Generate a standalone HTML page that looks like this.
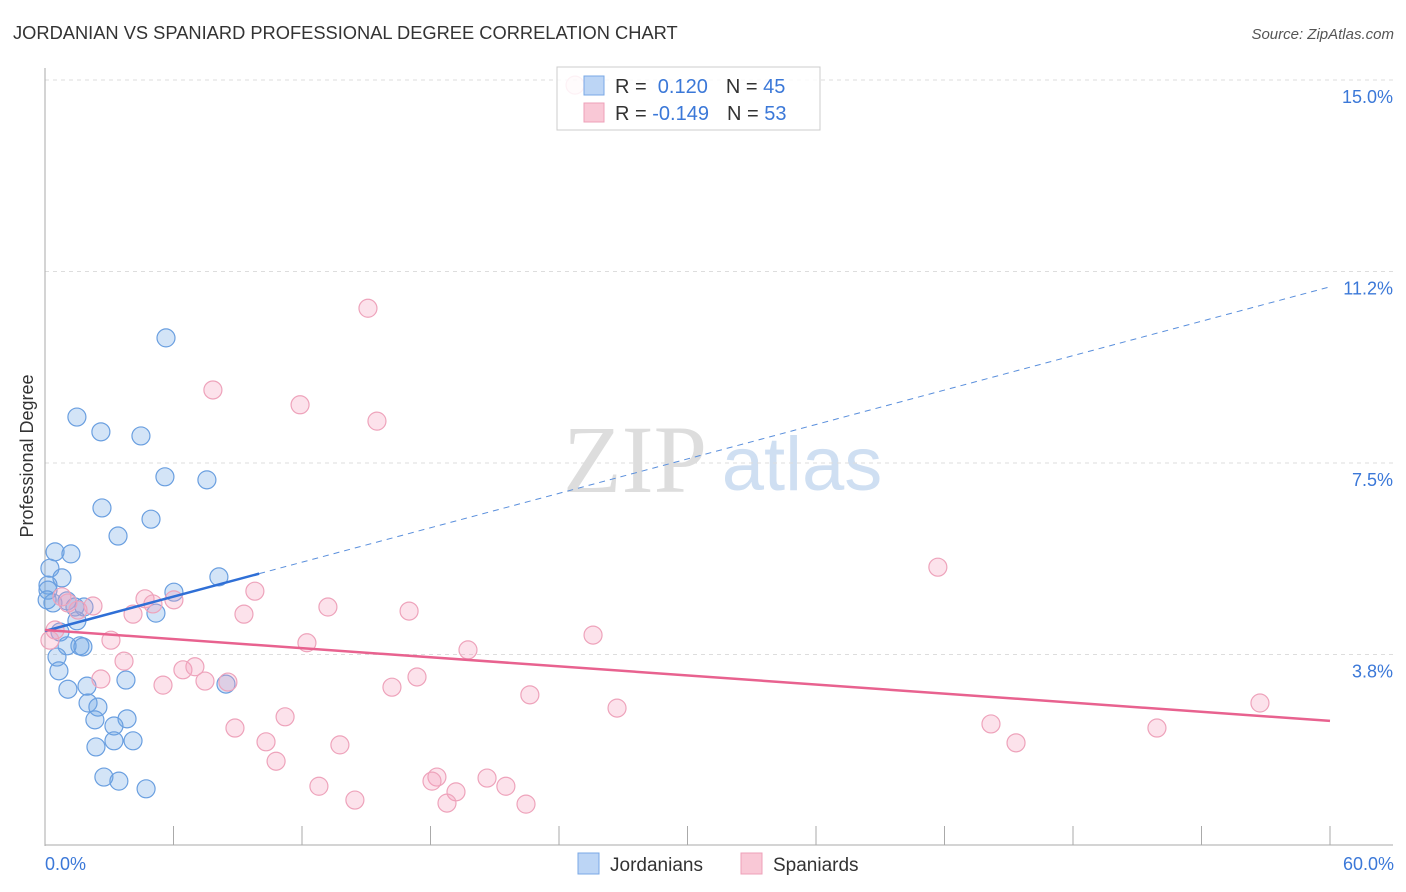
<!DOCTYPE html>
<html><head><meta charset="utf-8"><style>
body{margin:0;background:#fff;font-family:"Liberation Sans",sans-serif}
svg{display:block}
</style></head><body>
<svg id="c" width="1406" height="892">
<text x="13" y="39" font-size="18.3" fill="#333">JORDANIAN VS SPANIARD PROFESSIONAL DEGREE CORRELATION CHART</text>
<text x="1394" y="39" font-size="15" fill="#555" font-style="italic" text-anchor="end">Source: ZipAtlas.com</text>
<text x="635" y="492" font-size="96" fill="#ddd" font-family="Liberation Serif,serif" text-anchor="middle">ZIP</text>
<text x="802" y="490" font-size="76" fill="#cfdff2" text-anchor="middle">atlas</text>
<g id="grid"></g><g id="pts"></g><g id="trend"></g>
<text transform="translate(33,456) rotate(-90)" font-size="18" fill="#333" text-anchor="middle">Professional Degree</text>
<text x="45" y="870" font-size="18" fill="#3b78d8">0.0%</text>
<text x="1394" y="870" font-size="18" fill="#3b78d8" text-anchor="end">60.0%</text>
<g>
<rect x="557" y="67" width="263" height="63" fill="rgba(255,255,255,0.85)" stroke="#ccc"/>
<rect x="584" y="76" width="20" height="19" fill="#bcd5f5" stroke="#7aa8e6"/>
<rect x="584" y="103" width="20" height="19" fill="#f9c8d6" stroke="#eea0b8"/>
<text x="615" y="93" font-size="20" fill="#333">R = <tspan fill="#3b78d8">&#160;0.120</tspan><tspan dx="18">N = </tspan><tspan fill="#3b78d8">45</tspan></text>
<text x="615" y="120" font-size="20" fill="#333">R = <tspan fill="#3b78d8">-0.149</tspan><tspan dx="18">N = </tspan><tspan fill="#3b78d8">53</tspan></text>
</g>
<g>
<rect x="578" y="853" width="21" height="21" fill="#bcd5f5" stroke="#7aa8e6"/>
<text x="610" y="871" font-size="19" fill="#333">Jordanians</text>
<rect x="741" y="853" width="21" height="21" fill="#f9c8d6" stroke="#eea0b8"/>
<text x="773" y="871" font-size="19" fill="#333">Spaniards</text>
</g>
</svg>
<script>
const yTicks=[3.75,7.5,11.25,15];
const yTickLabels=["3.8%","7.5%","11.2%","15.0%"];
const xTicks=[0,6,12,18,24,30,36,42,48,54,60];
const jordX=[5.65,1.49,2.61,4.48,5.60,7.56,2.66,4.95,3.41,0.47,1.21,0.23,0.79,0.14,0.14,8.12,6.02,0.37,1.03,1.40,1.82,5.18,1.49,0.70,1.63,1.77,1.03,0.56,0.65,1.07,1.96,2.01,2.47,2.33,3.83,3.22,3.22,4.11,2.38,2.75,3.45,4.72,3.78,8.45,0.1];
const jordY=[9.95,8.40,8.11,8.03,7.23,7.17,6.62,6.40,6.07,5.76,5.72,5.44,5.25,5.11,5.01,5.27,4.97,4.76,4.80,4.68,4.68,4.56,4.41,4.19,3.92,3.90,3.92,3.70,3.43,3.07,3.13,2.80,2.72,2.47,2.49,2.35,2.06,2.06,1.94,1.35,1.27,1.12,3.25,3.17,4.82];
const spanX=[24.75,15.08,7.84,11.91,15.50,41.69,9.80,4.67,5.04,6.02,13.21,17.00,9.29,4.11,2.24,1.07,1.54,0.79,0.47,0.23,25.59,12.23,3.08,19.75,3.69,6.44,7.00,2.61,5.51,7.47,8.54,16.20,17.37,22.64,26.71,11.21,8.87,10.32,13.77,44.17,45.34,51.92,56.73,10.79,18.30,18.07,20.64,21.52,12.79,14.47,19.19,18.77,22.46];
const spanY=[14.90,10.53,8.93,8.64,8.32,5.46,4.99,4.84,4.74,4.82,4.68,4.60,4.54,4.54,4.70,4.76,4.62,4.88,4.23,4.03,4.13,3.98,4.03,3.84,3.62,3.45,3.51,3.27,3.15,3.23,3.21,3.11,3.31,2.96,2.70,2.53,2.31,2.04,1.98,2.39,2.02,2.31,2.80,1.66,1.35,1.27,1.33,1.17,1.17,0.90,1.06,0.84,0.82,0.86];
const jordTrend=[4.21,10.95];
const spanTrend=[4.23,2.45];
const jordSolidEnd=10;
const NS="http://www.w3.org/2000/svg";
const X=v=>45+v/60*1285, Y=v=>846-v/15*766;
function mk(t,a,p){const e=document.createElementNS(NS,t);for(const k in a)e.setAttribute(k,a[k]);p.appendChild(e);return e;}
const g=document.getElementById('grid');
yTicks.forEach((t,i)=>{
 const l=mk('line',{x1:45,x2:1393,y1:Y(t),y2:Y(t),stroke:'#ddd','stroke-dasharray':'4,4'},g);
 
 
 const tx=mk('text',{x:1393,y:Y(t)+23,'font-size':18,fill:'#3b78d8','text-anchor':'end'},g);tx.textContent=yTickLabels[i];
 
 
});
const ax=mk('line',{x1:45,x2:45,y1:68,y2:846,stroke:'#aaa'},g);


const bx=mk('line',{x1:45,x2:1393,y1:845,y2:845,stroke:'#aaa'},g);


xTicks.forEach(t=>{const l=mk('line',{x1:X(t),x2:X(t),y1:826,y2:845,stroke:'#aaa'},g);
 
 });
const p=document.getElementById('pts');
jordX.forEach((x,i)=>{const c=mk('circle',{cx:X(x),cy:Y(jordY[i]),r:9,fill:'rgba(110,165,230,0.3)',stroke:'#6a9fe0','stroke-width':1.2},p);
 
 });
spanX.forEach((x,i)=>{const c=mk('circle',{cx:X(x),cy:Y(spanY[i]),r:9,fill:'rgba(245,160,190,0.3)',stroke:'#eea3bb','stroke-width':1.2},p);
 
 });
const tr=document.getElementById('trend');
const jy=x=>jordTrend[0]+(jordTrend[1]-jordTrend[0])*x/60;
const l1=mk('line',{x1:X(0),y1:Y(jy(0)),x2:X(jordSolidEnd),y2:Y(jy(jordSolidEnd)),stroke:'#2f6fd6','stroke-width':2.5},tr);


const l2=mk('line',{x1:X(jordSolidEnd),y1:Y(jy(jordSolidEnd)),x2:X(60),y2:Y(jy(60)),stroke:'#5a8fdc','stroke-width':1,'stroke-dasharray':'6,5'},tr);


const l3=mk('line',{x1:X(0),y1:Y(spanTrend[0]),x2:X(60),y2:Y(spanTrend[1]),stroke:'#e8628f','stroke-width':2.5},tr);


</script>
</body></html>
